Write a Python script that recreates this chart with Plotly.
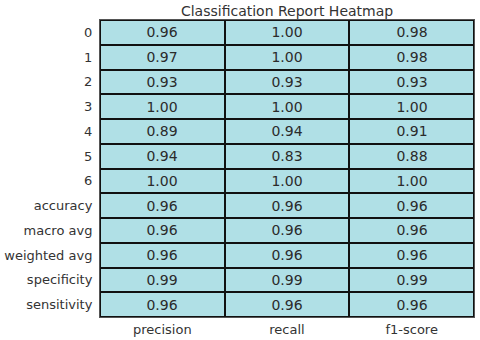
import plotly.graph_objects as go

rows = ["0", "1", "2", "3", "4", "5", "6", "accuracy", "macro avg", "weighted avg", "specificity", "sensitivity"]
cols = ["precision", "recall", "f1-score"]
precision = [0.96, 0.97, 0.93, 1.00, 0.89, 0.94, 1.00, 0.96, 0.96, 0.96, 0.99, 0.96]
recall = [1.00, 1.00, 0.93, 1.00, 0.94, 0.83, 1.00, 0.96, 0.96, 0.96, 0.99, 0.96]
f1_score = [0.98, 0.98, 0.93, 1.00, 0.91, 0.88, 1.00, 0.96, 0.96, 0.96, 0.99, 0.96]

z = [[p, r, f] for p, r, f in zip(precision, recall, f1_score)]

fig = go.Figure(go.Heatmap(
    z=z, x=cols, y=rows,
    colorscale=[[0, "#b0e0e6"], [1, "#b0e0e6"]],
    showscale=False,
    xgap=2, ygap=2,
    texttemplate="%{z:.2f}",
    textfont=dict(family="DejaVu Sans", size=14, color="#2b2b2b"),
    hoverinfo="skip",
))

fig.update_layout(
    width=480, height=340,
    margin=dict(l=100, r=6, t=20, b=23, autoexpand=False),
    paper_bgcolor="white",
    plot_bgcolor="#111111",
    font=dict(family="DejaVu Sans", size=13, color="#333333"),
    title=dict(text="Classification Report Heatmap", x=0.598, xanchor="center",
               y=1 - 11 / 340, yanchor="middle", font=dict(size=14, color="#333333")),
)
fig.update_xaxes(showgrid=False, zeroline=False, ticks="", automargin=False,
                 ticklabelstandoff=0,
                 showline=True, linecolor="#555555", linewidth=1, mirror=True)
fig.update_yaxes(autorange="reversed", showgrid=False, zeroline=False, ticks="",
                 automargin=False, ticklabelstandoff=4,
                 showline=True, linecolor="#555555", linewidth=1, mirror=True)

fig.write_html("out.html", config={"displayModeBar": False},
               post_script="document.body.style.margin='0';")
